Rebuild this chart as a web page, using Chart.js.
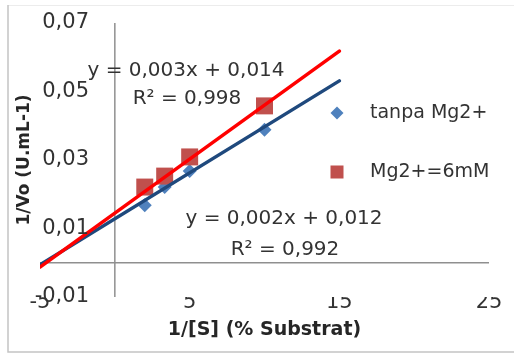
<!DOCTYPE html>
<html><head><meta charset="utf-8">
<script src="https://cdn.jsdelivr.net/npm/chart.js@4.4.0/dist/chart.umd.min.js"></script>
<style>html,body{margin:0;padding:0;background:#fff;} #wrap{width:514px;height:354px;position:relative}</style>
</head><body><div id="wrap"><canvas id="c" width="514" height="354"></canvas></div>
<script>
// ---- data ----
const substrateInv = [2, 3.33, 5, 10];
const tanpaMg = [0.0168, 0.0221, 0.0268, 0.0388];
const mg6mM = [0.0221, 0.0253, 0.0309, 0.0458];
const trendX = [-5, 15];
const tanpaTrend = [-0.0006, 0.0531];
const mgTrend = [-0.0013, 0.0618];
const xTicks = [-5, 5, 15, 25];
const xTickLabels = ['-5', '5', '15', '25'];
const yTicks = [-0.01, 0.01, 0.03, 0.05, 0.07];
const yTickLabels = ['-0,01', '0,01', '0,03', '0,05', '0,07'];
const seriesNames = ['tanpa Mg2+', 'Mg2+=6mM'];
const eqTanpa = ['y = 0,002x + 0,012', 'R² = 0,992'];
const eqMg = ['y = 0,003x + 0,014', 'R² = 0,998'];
const xTitle = '1/[S] (% Substrat)';
const yTitle = '1/Vo (U.mL-1)';

const pairs = (xs, ys) => xs.map((x, i) => ({x: x, y: ys[i]}));
const FONT = '"DejaVu Sans", sans-serif';
const BLUE_PT = '#4F81BD', RED_PT = '#C0504D', BLUE_LN = '#1F497D', RED_LN = '#FF0000';

const decor = {
  id: 'decor',
  beforeDraw(chart) {
    const ctx = chart.ctx;
    ctx.save();
    ctx.fillStyle = '#fff';
    ctx.fillRect(0, 0, chart.width, chart.height);
    ctx.strokeStyle = '#ececec'; ctx.lineWidth = 1;
    ctx.beginPath(); ctx.moveTo(8, 5.5); ctx.lineTo(514, 5.5); ctx.stroke();
    ctx.strokeStyle = '#c4c4c4'; ctx.lineWidth = 1.5;
    ctx.beginPath(); ctx.moveTo(8, 5); ctx.lineTo(8, 352); ctx.lineTo(514, 352); ctx.stroke();
    ctx.restore();
  },
  beforeDatasetsDraw(chart) {
    const {ctx, scales: {x, y}, chartArea: a} = chart;
    ctx.save();
    ctx.strokeStyle = '#8f8f8f'; ctx.lineWidth = 1.5;
    const y0 = y.getPixelForValue(0), x0 = x.getPixelForValue(0);
    ctx.beginPath(); ctx.moveTo(a.left, y0); ctx.lineTo(a.right, y0); ctx.stroke();
    ctx.beginPath(); ctx.moveTo(x0, a.top); ctx.lineTo(x0, a.bottom); ctx.stroke();
    ctx.restore();
  },
  afterDraw(chart) {
    const {ctx, scales: {x, y}} = chart;
    ctx.save();
    ctx.fillStyle = '#333';
    // y tick labels, right-aligned left of the value axis line
    ctx.font = '21px ' + FONT; ctx.textAlign = 'right'; ctx.textBaseline = 'middle';
    yTicks.forEach((v, i) => ctx.fillText(yTickLabels[i], 89, y.getPixelForValue(v)));
    // trendline equations
    ctx.font = '20px ' + FONT; ctx.textAlign = 'center';
    ctx.fillText(eqMg[0], 186, 71);
    ctx.fillText(eqMg[1], 187, 99);
    ctx.fillText(eqTanpa[0], 284, 219);
    ctx.fillText(eqTanpa[1], 285, 250);
    // legend
    ctx.font = '19px ' + FONT; ctx.textAlign = 'left';
    ctx.fillStyle = BLUE_PT;
    ctx.beginPath(); ctx.moveTo(337, 106.5); ctx.lineTo(343.5, 113); ctx.lineTo(337, 119.5); ctx.lineTo(330.5, 113); ctx.closePath(); ctx.fill();
    ctx.fillStyle = RED_PT;
    ctx.fillRect(330.5, 165.5, 13, 13);
    ctx.fillStyle = '#333';
    ctx.fillText(seriesNames[0], 370, 113);
    ctx.fillText(seriesNames[1], 370, 172);
    ctx.restore();
  }
};

new Chart(document.getElementById('c'), {
  type: 'scatter',
  data: {
    datasets: [
      {label: seriesNames[1] + ' trend', data: pairs(trendX, mgTrend), showLine: true, borderColor: RED_LN, borderWidth: 3.5, borderCapStyle: 'round', pointRadius: 0, order: 0},
      {label: seriesNames[0] + ' trend', data: pairs(trendX, tanpaTrend), showLine: true, borderColor: BLUE_LN, borderWidth: 3.5, borderCapStyle: 'round', pointRadius: 0, order: 1},
      {label: seriesNames[1], data: pairs(substrateInv, mg6mM), pointStyle: 'rect', pointRadius: 12, backgroundColor: RED_PT, borderWidth: 0, order: 2},
      {label: seriesNames[0], data: pairs(substrateInv, tanpaMg), pointStyle: 'rectRot', pointRadius: 7, backgroundColor: BLUE_PT, borderWidth: 0, order: 3}
    ]
  },
  options: {
    responsive: false, animation: false, devicePixelRatio: 1,
    layout: {padding: {left: 8, top: 23, right: 25, bottom: 0}},
    plugins: {legend: {display: false}, tooltip: {enabled: false}},
    scales: {
      x: {
        type: 'linear', position: 'bottom', min: -5, max: 25,
        grid: {display: false, drawTicks: false}, border: {display: false},
        afterBuildTicks: (s) => { s.ticks = xTicks.map(v => ({value: v})); },
        afterFit: (s) => { s.height = 57; },
        ticks: {font: {family: FONT, size: 21}, color: '#333', padding: -7, maxRotation: 0,
                callback: (v) => xTickLabels[xTicks.indexOf(v)]},
        title: {display: true, text: xTitle, font: {family: FONT, size: 19, weight: 'bold'}, color: '#262626', padding: {top: 0, bottom: 13}}
      },
      y: {
        type: 'linear', position: 'left', min: -0.01, max: 0.07,
        grid: {display: false, drawTicks: false}, border: {display: false},
        afterBuildTicks: (s) => { s.ticks = yTicks.map(v => ({value: v})); },
        afterFit: (s) => { s.width = 32; },
        ticks: {display: false},
        title: {display: true, text: yTitle, font: {family: FONT, size: 17, weight: 'bold'}, color: '#262626', padding: {top: 6, bottom: 0}}
      }
    }
  },
  plugins: [decor]
});
</script></body></html>
